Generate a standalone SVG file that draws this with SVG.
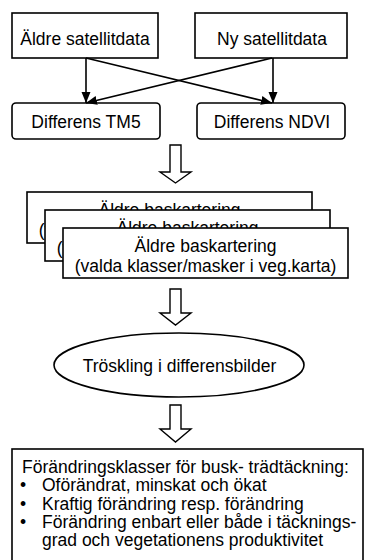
<svg xmlns="http://www.w3.org/2000/svg" width="365" height="560" viewBox="0 0 365 560">
<style>
  text { font-family: "Liberation Sans", Arial, sans-serif; font-size: 17.5px; fill: #000; }
  .c { text-anchor: middle; }
  .box { fill: #fff; stroke: #000; stroke-width: 1.6; }
  .conn { stroke: #000; stroke-width: 1.6; fill: none; }
  .blk { fill: #fff; stroke: #000; stroke-width: 1.4; stroke-linejoin: miter; }
</style>
<defs>
  <marker id="ah" markerUnits="userSpaceOnUse" markerWidth="12" markerHeight="12" viewBox="0 0 12 12" refX="11" refY="6" orient="auto">
    <path d="M0,1.5 L11,6 L0,10.5 Z" fill="#000"/>
  </marker>
</defs>
<rect width="365" height="560" fill="#fff"/>

<g id="n-aldre-satellitdata">
  <rect class="box" x="12" y="13" width="146" height="45"/>
  <text class="c" x="85" y="45">Äldre satellitdata</text>
</g>
<g id="n-ny-satellitdata">
  <rect class="box" x="195" y="13" width="152" height="45"/>
  <text class="c" x="272" y="45">Ny satellitdata</text>
</g>
<g id="n-differens-tm5">
  <rect class="box" x="12" y="103" width="148" height="36" rx="4"/>
  <text class="c" x="86" y="128">Differens TM5</text>
</g>
<g id="n-differens-ndvi">
  <rect class="box" x="197" y="103" width="148" height="36" rx="4"/>
  <text class="c" x="272" y="128">Differens NDVI</text>
</g>

<g id="connectors">
  <line class="conn" x1="86" y1="58" x2="86" y2="103" marker-end="url(#ah)"/>
  <line class="conn" x1="86" y1="58" x2="272" y2="103" marker-end="url(#ah)"/>
  <line class="conn" x1="273" y1="58" x2="273" y2="103" marker-end="url(#ah)"/>
  <line class="conn" x1="272" y1="58" x2="86" y2="103" marker-end="url(#ah)"/>
  <polygon class="blk" points="170,145 181,145 181,172 191,172 175.5,183 160,172 170,172"/>
  <polygon class="blk" points="170,289 181,289 181,313 191,313 175.5,325 160,313 170,313"/>
  <polygon class="blk" points="170,405 181,405 181,429 191,429 175.5,442 160,429 170,429"/>
</g>

<g id="n-baskartering-1">
  <rect class="box" x="27" y="192" width="285" height="51"/>
  <text class="c" x="169.5" y="216">Äldre baskartering</text>
  <text class="c" x="169.5" y="236">(valda klasser/masker i veg.karta)</text>
</g>
<g id="n-baskartering-2">
  <rect class="box" x="45" y="210" width="285" height="51"/>
  <text class="c" x="187.5" y="234">Äldre baskartering</text>
  <text class="c" x="187.5" y="254">(valda klasser/masker i veg.karta)</text>
</g>
<g id="n-baskartering-3">
  <rect class="box" x="63" y="228" width="285" height="50"/>
  <text class="c" x="205.5" y="252">Äldre baskartering</text>
  <text class="c" x="205.5" y="272">(valda klasser/masker i veg.karta)</text>
</g>

<g id="n-troskling">
  <ellipse class="box" cx="179" cy="365" rx="125" ry="32"/>
  <text class="c" x="179.5" y="372">Tröskling i differensbilder</text>
</g>

<g id="n-forandringsklasser">
  <rect class="box" x="12" y="449" width="351" height="120"/>
  <text x="22" y="473">Förändringsklasser för busk- trädtäckning:</text>
  <text x="20" y="491">•</text>
  <text x="42" y="491">Oförändrat, minskat och ökat</text>
  <text x="20" y="509.5">•</text>
  <text x="42" y="509.5">Kraftig förändring resp. förändring</text>
  <text x="20" y="528">•</text>
  <text x="42" y="528">Förändring enbart eller både i täcknings-</text>
  <text x="42" y="546">grad och vegetationens produktivitet</text>
</g>
</svg>
